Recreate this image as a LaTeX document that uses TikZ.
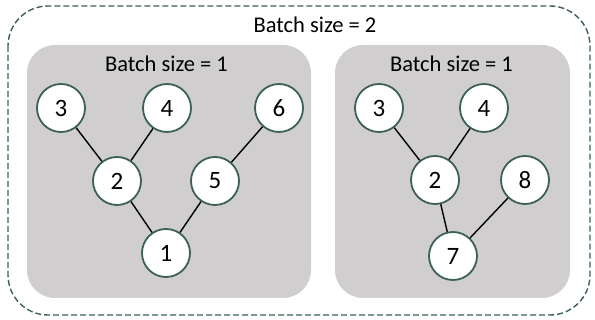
\documentclass[tikz,border=0pt]{standalone}
\usepackage{fontspec}
\setmainfont{Carlito}
\begin{document}
\begin{tikzpicture}[x=1pt,y=-1pt,
  tnode/.style={circle,draw=nodegreen,line width=1.8pt,fill=white,minimum size=48pt,inner sep=0pt,font=\fontsize{25}{25}\selectfont},
  tedge/.style={draw=black,line width=1.4pt},
  panel/.style={fill=panelgray,draw=none,rounded corners=28pt},
  lbl/.style={font=\fontsize{22.5}{22.5}\selectfont,inner sep=0pt}]
\definecolor{nodegreen}{HTML}{3B6157}
\definecolor{panelgray}{HTML}{D0CECE}
\useasboundingbox (0,0) rectangle (595,320);
\draw[nodegreen,line width=1.4pt,dash pattern=on 6pt off 3pt,rounded corners=40pt] (8,6) rectangle (590,315);
\node[lbl] (outerlbl) at (315,25) {Batch size = 2};
\fill[panel] (27,45) rectangle (311,298);
\fill[panel] (335,45) rectangle (570,298);
\node[lbl] (llbl) at (166.5,64) {Batch size = 1};
\node[lbl] (rlbl) at (451.5,64) {Batch size = 1};
% left tree
\node[tnode] (a3) at (61,108) {3};
\node[tnode] (a4) at (167,108) {4};
\node[tnode] (a6) at (279,108) {6};
\node[tnode] (a2) at (117,181) {2};
\node[tnode] (a5) at (215,181) {5};
\node[tnode] (a1) at (166,253) {1};
% right tree
\node[tnode] (b3) at (379,108) {3};
\node[tnode] (b4) at (484,108) {4};
\node[tnode] (b2) at (435,180) {2};
\node[tnode] (b8) at (525,180) {8};
\node[tnode] (b7) at (453,256) {7};
\draw[tedge] (a3) -- (a2);
\draw[tedge] (a4) -- (a2);
\draw[tedge] (a6) -- (a5);
\draw[tedge] (a2) -- (a1);
\draw[tedge] (a5) -- (a1);
\draw[tedge] (b3) -- (b2);
\draw[tedge] (b4) -- (b2);
\draw[tedge] (b2) -- (b7);
\draw[tedge] (b8) -- (b7);
\end{tikzpicture}
\end{document}
